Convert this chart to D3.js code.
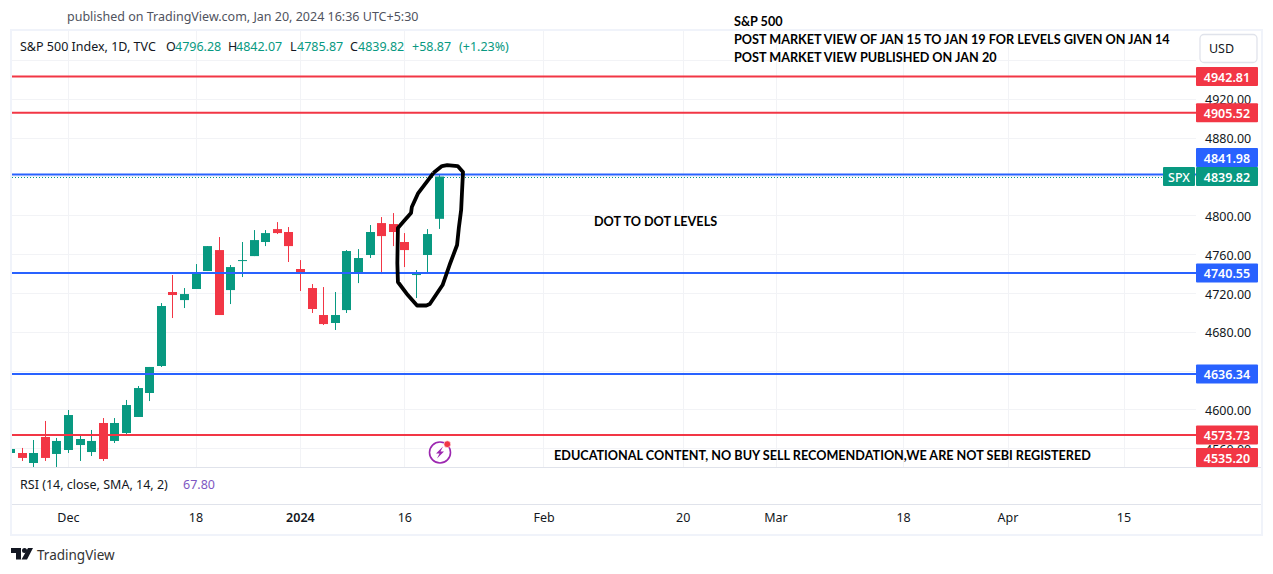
<!DOCTYPE html>
<html>
<head>
<meta charset="utf-8">
<script src="https://d3js.org/d3.v7.min.js"></script>
<style>
html, body { margin: 0; padding: 0; background: #fff; }
svg { display: block; }
text { font-family: "Noto Sans", sans-serif; font-size: 12.5px; fill: #131722; }
.note { font-family: Lato, sans-serif; font-weight: 700; font-size: 12.65px; fill: #000; }
.axis path, .axis line { display: none; }
</style>
</head>
<body>
<div id="chart"></div>
<script>
'use strict'

// bars start one day before the first whole candle, which is cut by the pane
var firstBar = -1
var opens = [4555.1,4555.1,4544.8,4571.6,4554.1,4558.2,4563.3,4556.1,4586.0,4567.5,4575.7,4592.2,4616.9,4644.7,4720.9,4712.6,4724.0,4742.5,4764.1,4722.9,4752.8,4757.9,4772.4,4785.7,4782.7,4744.6,4725.0,4697.2,4689.0,4702.3,4740.4,4759.0,4791.9,4790.9,4772.4,4738.4,4759.0,4796.28]
var highs = [4559.2,4560.3,4568.5,4588.1,4570.6,4599.4,4572.6,4578.8,4591.1,4591.1,4609.7,4624.1,4643.7,4709.5,4738.4,4725.0,4749.7,4768.2,4777.5,4748.7,4772.4,4784.7,4784.7,4792.9,4787.8,4753.8,4729.1,4726.0,4720.9,4764.1,4765.1,4789.9,4798.1,4802.2,4781.6,4743.5,4785.7,4842.07]
var lows = [4555.1,4546.9,4540.7,4546.9,4540.7,4555.1,4546.9,4552.0,4546.9,4565.4,4574.7,4592.2,4608.6,4643.7,4694.1,4704.4,4724.0,4742.5,4697.2,4708.5,4736.3,4757.9,4768.2,4780.6,4751.8,4721.9,4699.3,4686.9,4681.8,4699.3,4730.1,4755.9,4739.4,4768.2,4746.6,4714.7,4740.4,4785.87]
var closes = [4559.2,4550.0,4555.1,4550.0,4567.5,4594.2,4569.5,4567.5,4548.9,4586.0,4604.5,4622.0,4643.7,4706.5,4717.8,4718.8,4740.4,4768.2,4697.2,4746.6,4753.8,4774.4,4781.6,4781.6,4768.2,4741.5,4703.4,4687.9,4697.2,4763.1,4755.9,4782.7,4778.5,4782.7,4764.1,4739.4,4780.6,4839.82]

var priceTicks = [4560,4600,4640,4680,4720,4760,4800,4840,4880,4920,4960]
// these sit fully behind a price label or above the pane, so they print no text
var priceTickLabels = [4560,4600,4680,4720,4760,4800,4880,4920]
var timeTickBars = [4,15,24,33,45,57,65,76,85,95]
var timeTickLabels = ["Dec","18","2024","16","Feb","20","Mar","18","Apr","15"]

var redLevels = [4942.81,4905.52,4573.73]
var blueLevels = [4841.98,4740.55,4636.34]
var offPaneLevel = 4535.20
var lastClose = 4839.82

// the hand drawn loop round the last candles, as [bar, price]
var loopPoints = [[35.5,4843.4],[36.25,4850.6],[36.7,4851.6],[37.6,4850.6],[38.06,4844.4],[37.97,4822.8],[37.9,4805.3],[37.7,4786.8],[37.55,4769.3],[36.9,4748.7],[36.3,4728.1],[35.2,4708.5],[34.9,4707],[34.1,4707],[33.3,4717.8],[32.45,4731.2],[32.4,4750.7],[32.45,4786.8],[32.97,4794],[33.58,4802.2],[33.65,4808.4],[34.2,4822.8],[35.05,4836.2],[35.5,4843.4]]

var green = "#089981", red = "#F23645", blue = "#2962FF", frame = "#f0f3fa", grid = "#f2f3f6", sep = "#e0e3eb"
var paneLeft = 12, paneRight = 1196, paneTop = 31, paneBottom = 467, rsiBottom = 504, timeBottom = 534

var svg = d3.select("#chart").append("svg").attr("width", 1273).attr("height", 574)

var x = d3.scaleLinear().domain([0, 95]).range([21.5, 1123.5])
var y = d3.scaleLinear().domain([4600, 4920]).range([409.4, 98.7])

var candles = opens.map(function(o, i){
	return {bar: firstBar + i, o: o, h: highs[i], l: lows[i], c: closes[i]}
})

// frame and separators
svg.append("rect").attr("x", 11).attr("y", 30).attr("width", 1251).attr("height", 505)
	.attr("fill", "#fff").attr("stroke", frame).attr("stroke-width", 2)
svg.selectAll(".sep").data([paneBottom, rsiBottom]).enter().append("line")
	.attr("class", "sep").attr("x1", paneLeft).attr("x2", 1261)
	.attr("y1", function(d){ return d + .5 }).attr("y2", function(d){ return d + .5 })
	.attr("stroke", sep)

svg.append("clipPath").attr("id", "pane").append("rect")
	.attr("x", paneLeft).attr("y", paneTop).attr("width", paneRight - paneLeft).attr("height", paneBottom - paneTop)

var plot = svg.append("g").attr("clip-path", "url(#pane)")

// grid
plot.selectAll(".hgrid").data(priceTicks).enter().append("line")
	.attr("x1", paneLeft).attr("x2", paneRight)
	.attr("y1", function(d){ return Math.round(y(d)) + .5 }).attr("y2", function(d){ return Math.round(y(d)) + .5 })
	.attr("stroke", grid)
plot.selectAll(".vgrid").data(timeTickBars).enter().append("line")
	.attr("y1", paneTop).attr("y2", paneBottom)
	.attr("x1", function(d){ return Math.round(x(d)) + .5 }).attr("x2", function(d){ return Math.round(x(d)) + .5 })
	.attr("stroke", grid)

// candles
function barColor(d){ return d.c >= d.o ? green : red }
plot.selectAll(".wick").data(candles).enter().append("line")
	.attr("x1", function(d){ return Math.round(x(d.bar)) + .5 })
	.attr("x2", function(d){ return Math.round(x(d.bar)) + .5 })
	.attr("y1", function(d){ return y(d.h) })
	.attr("y2", function(d){ return y(d.l) })
	.attr("stroke", barColor)
plot.selectAll(".body").data(candles).enter().append("rect")
	.attr("x", function(d){ return Math.round(x(d.bar)) - 4 })
	.attr("width", 9)
	.attr("y", function(d){ return y(Math.max(d.o, d.c)) })
	.attr("height", function(d){ return Math.max(1, Math.abs(y(d.o) - y(d.c))) })
	.attr("fill", barColor)

// level lines
function levelLines(levels, color, right){
	plot.selectAll(".lvl" + color.slice(1)).data(levels).enter().append("line")
		.attr("x1", paneLeft).attr("x2", right)
		.attr("y1", function(d){ return y(d) }).attr("y2", function(d){ return y(d) })
		.attr("stroke", color).attr("stroke-width", 2)
}
levelLines(redLevels, red, paneRight)
levelLines(blueLevels, blue, paneRight)
plot.append("line").attr("x1", paneLeft).attr("x2", paneRight)
	.attr("y1", Math.ceil(y(lastClose)) + .5).attr("y2", Math.ceil(y(lastClose)) + .5)
	.attr("stroke", green).attr("stroke-dasharray", "1 2")

// hand drawn loop
plot.append("path")
	.attr("d", d3.line().x(function(d){ return x(d[0]) }).y(function(d){ return y(d[1]) }).curve(d3.curveLinear)(loopPoints))
	.attr("fill", "none").attr("stroke", "#000").attr("stroke-width", 3.8).attr("stroke-linejoin", "round")

// axes
var yAxis = svg.append("g").attr("class", "axis").attr("transform", "translate(1194,0)")
	.call(d3.axisRight(y).tickValues(priceTickLabels).tickFormat(d3.format(".2f")).tickSize(0))
yAxis.selectAll("text").attr("x", 11).attr("dy", "0.42em").style("font-size", "12.5px")

var xAxis = svg.append("g").attr("class", "axis").attr("transform", "translate(0," + (rsiBottom + 9) + ")")
	.call(d3.axisBottom(x).tickValues(timeTickBars).tickSize(0).tickFormat(function(d, i){ return timeTickLabels[i] }))
xAxis.selectAll("text").attr("y", 0).attr("dy", "0.71em").style("font-size", "12.5px")
	.style("font-weight", function(d, i){ return timeTickLabels[i] == "2024" ? 600 : 400 })

// price labels, pushed apart the way the chart stacks them
var labelH = 19
var labels = redLevels.map(function(p){ return {p: p, color: red} })
	.concat(blueLevels.map(function(p){ return {p: p, color: blue} }))
	.concat([{p: lastClose, color: green}, {p: offPaneLevel, color: red}])
labels.forEach(function(l){
	l.cy = Math.min(y(l.p), paneBottom - labelH / 2)
})
var last = labels.filter(function(l){ return l.p == lastClose })[0]
labels.forEach(function(l){
	if(l !== last && Math.abs(l.cy - last.cy) < labelH){
		l.cy = last.cy - labelH
	}
})
var labelG = svg.selectAll(".plabel").data(labels).enter().append("g")
labelG.append("rect")
	.attr("x", paneRight).attr("width", 62).attr("height", labelH).attr("rx", 1)
	.attr("y", function(d){ return d.cy - labelH / 2 })
	.attr("fill", function(d){ return d.color })
labelG.append("text")
	.attr("x", 1227).attr("text-anchor", "middle").attr("dy", "0.42em")
	.attr("y", function(d){ return d.cy })
	.style("fill", "#fff").style("font-weight", 600)
	.text(function(d){ return d.p.toFixed(2) })

// SPX tag
svg.append("rect").attr("x", 1163).attr("width", 32).attr("height", labelH).attr("rx", 1)
	.attr("y", y(lastClose) - labelH / 2).attr("fill", green)
svg.append("text").attr("x", 1179).attr("y", y(lastClose)).attr("dy", "0.42em").attr("text-anchor", "middle")
	.style("fill", "#fff").style("font-weight", 500).text("SPX")

// USD button
svg.append("rect").attr("x", 1200).attr("y", 34.5).attr("width", 57).attr("height", 28).attr("rx", 4)
	.attr("fill", "#fff").attr("stroke", sep).attr("stroke-width", 1.3)
svg.append("text").attr("x", 1221.5).attr("y", 48.5).attr("dy", "0.36em").attr("text-anchor", "middle").text("USD")

// header and legend
svg.append("text").attr("x", 67).attr("y", 16).attr("dy", "0.36em").style("fill", "#50535e")
	.text("published on TradingView.com, Jan 20, 2024 16:36 UTC+5:30")

var legendBits = [
	["S&P 500 Index, 1D, TVC", 20, "#131722"],
	["O", 166, "#131722"], ["4796.28", 175, green],
	["H", 228, "#131722"], ["4842.07", 236, green],
	["L", 290, "#131722"], ["4785.87", 297, green],
	["C", 350, "#131722"], ["4839.82", 358, green],
	["+58.87", 412, green], ["(+1.23%)", 459, green]
]
svg.selectAll(".legend").data(legendBits).enter().append("text")
	.attr("x", function(d){ return d[1] }).attr("y", 46).attr("dy", "0.36em")
	.style("fill", function(d){ return d[2] })
	.text(function(d){ return d[0] })

svg.append("text").attr("x", 20).attr("y", 484).attr("dy", "0.36em").text("RSI (14, close, SMA, 14, 2)")
svg.append("text").attr("x", 183).attr("y", 484).attr("dy", "0.36em").style("fill", "#7e57c2").text("67.80")

// notes typed over the chart
var notes = [
	["S&P 500", 734, 21],
	["POST MARKET VIEW OF JAN 15 TO JAN 19 FOR LEVELS GIVEN ON JAN 14", 734, 39],
	["POST MARKET VIEW PUBLISHED ON JAN 20", 734, 57],
	["DOT TO DOT LEVELS", 594, 221],
	["EDUCATIONAL CONTENT, NO BUY SELL RECOMENDATION,WE ARE NOT SEBI REGISTERED", 554, 455]
]
svg.selectAll(".note").data(notes).enter().append("text").attr("class", "note")
	.attr("x", function(d){ return d[1] }).attr("y", function(d){ return d[2] }).attr("dy", "0.36em")
	.text(function(d){ return d[0] })

// lightning badge
var badge = svg.append("g").attr("transform", "translate(440,452.5)")
badge.append("circle").attr("r", 10.5).attr("fill", "#fff").attr("stroke", "#9c27b0").attr("stroke-width", 1.6)
badge.append("path").attr("d", "M3,-6 L-4,1 L-0.5,1 L-3,6 L4,-1 L0.5,-1 Z").attr("fill", "#9c27b0")
badge.append("circle").attr("cx", 7.3).attr("cy", -8.3).attr("r", 3.4).attr("fill", red).attr("stroke", "#fff").attr("stroke-width", .6)

// TradingView logo
var logo = svg.append("g").attr("fill", "#131722")
logo.append("path").attr("d", "M11,548 H21 V559.5 H16 V553 H11 Z M28,548 H33 L27,559.5 H21.5 Z")
logo.append("circle").attr("cx", 24.5).attr("cy", 550.5).attr("r", 2.5)
svg.append("text").attr("x", 37).attr("y", 555).attr("dy", "0.36em").style("font-size", "13.5px").style("fill", "#333").text("TradingView")
</script>
</body>
</html>
